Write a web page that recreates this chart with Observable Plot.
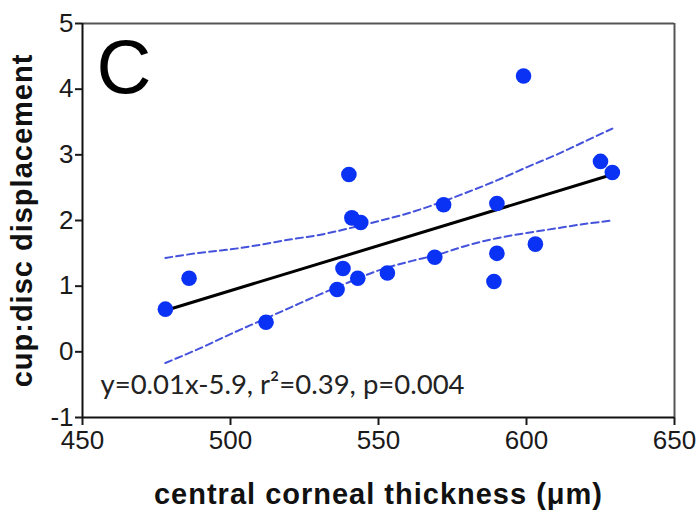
<!DOCTYPE html>
<html><head><meta charset="utf-8">
<script src="https://cdn.jsdelivr.net/npm/d3@7"></script>
<script src="https://cdn.jsdelivr.net/npm/@observablehq/plot@0.6"></script>
<style>body{margin:0;background:#fff}</style>
</head><body><div id="chart"></div>
<script>
// Data
const thickness = [478,486,512,536,538,540,541,544,543,553,569,572,589,590,590,599,603,625,629];
const cupDisc   = [0.65,1.12,0.45,0.95,1.27,2.70,2.04,1.97,1.12,1.20,1.44,2.24,1.07,2.26,1.50,4.20,1.64,2.90,2.73];
const fitX = [478, 629];
const fitY = [0.63, 2.70];
const ciX     = [478,490,500,510,520,530,540,550,560,570,580,590,600,610,620,629];
const ciUpper = [1.43,1.51,1.56,1.63,1.71,1.78,1.88,1.99,2.11,2.26,2.43,2.61,2.81,3.00,3.21,3.40];
const ciLower = [-0.17,0.06,0.27,0.47,0.67,0.87,1.06,1.24,1.37,1.48,1.62,1.73,1.81,1.88,1.95,2.00];
const xTicks = [450,500,550,600,650];
const yTicks = [-1,0,1,2,3,4,5];
const panelLetter = "C";
const statsText = "y=0.01x-5.9, r\u00b2=0.39, p=0.004";
const xLabel = "central corneal thickness (\u03bcm)";
const yLabel = "cup:disc displacement";

const points = thickness.map((x, i) => ({x, y: cupDisc[i]}));
const fit = fitX.map((x, i) => ({x, y: fitY[i]}));
const upper = ciX.map((x, i) => ({x, y: ciUpper[i]}));
const lower = ciX.map((x, i) => ({x, y: ciLower[i]}));

const blue = "#0a32f5";
const dashBlue = "#4452dc";

const chart = Plot.plot({
  width: 700,
  height: 521,
  marginLeft: 82,
  marginRight: 26,
  marginTop: 23,
  marginBottom: 104,
  style: {fontFamily: "'Liberation Sans', Arial, sans-serif", background: "#fff", color: "#1a1a1a"},
  x: {domain: [450, 650]},
  y: {domain: [-1, 5]},
  marks: [
    Plot.ruleY([5], {stroke: "#555", strokeWidth: 2}),
    Plot.ruleX([650], {stroke: "#555", strokeWidth: 2}),
    Plot.ruleX([450], {stroke: "#111", strokeWidth: 2}),
    Plot.ruleY([-1], {stroke: "#111", strokeWidth: 2}),
    Plot.axisX({ticks: xTicks, tickSize: 8, text: null, label: null, strokeWidth: 2}),
    Plot.text(xTicks, {x: d => d, frameAnchor: "bottom", dy: 31, fontSize: 26, text: d => String(d), fill: "#1a1a1a"}),
    Plot.axisY({ticks: yTicks, tickSize: 7, tickPadding: 2, fontSize: 26, tickFormat: d => String(d), label: null, strokeWidth: 2}),
    Plot.line(upper, {x: "x", y: "y", stroke: dashBlue, strokeWidth: 2, strokeDasharray: "7,4", curve: "catmull-rom"}),
    Plot.line(lower, {x: "x", y: "y", stroke: dashBlue, strokeWidth: 2, strokeDasharray: "7,4", curve: "catmull-rom"}),
    Plot.line(fit, {x: "x", y: "y", stroke: "#000", strokeWidth: 3}),
    Plot.dot(points, {x: "x", y: "y", r: 7.8, fill: blue, stroke: "none"}),
    Plot.text([panelLetter], {frameAnchor: "top-left", dx: 14, dy: 16, fontSize: 76, fontFamily: "'Liberation Sans Narrow', 'Liberation Sans', sans-serif", lineAnchor: "top", textAnchor: "start", fill: "#000"}),
    Plot.text([statsText], {frameAnchor: "bottom-left", dx: 18, dy: -24, fontSize: 27.5, fontFamily: "Lato, 'Open Sans', sans-serif", lineAnchor: "bottom", textAnchor: "start", fill: "#222"}),
    Plot.text([xLabel], {frameAnchor: "bottom", dy: 86, fontSize: 29, fontWeight: "bold", textAnchor: "middle", fill: "#111"}),
    Plot.text([yLabel], {frameAnchor: "left", dx: -60, rotate: -90, fontSize: 29, fontWeight: "bold", textAnchor: "middle", fill: "#111"})
  ]
});
d3.select(chart).selectAll("text").filter(function(){
  const t = this.textContent; return t === xLabel || t === yLabel;
}).attr("letter-spacing", 1);
document.getElementById("chart").appendChild(chart);
</script>
</body></html>
